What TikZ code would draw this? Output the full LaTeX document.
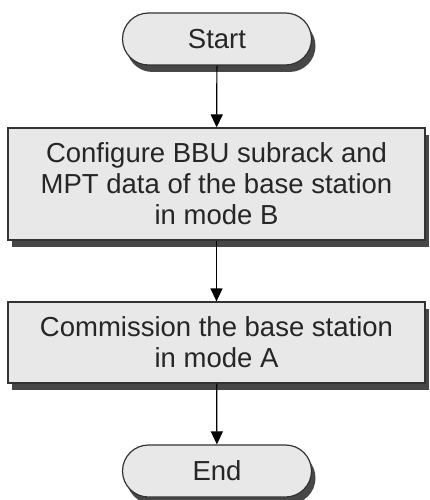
\documentclass[tikz,border=0pt]{standalone}
\usepackage{fontspec}
\setmainfont{Liberation Sans}
\usetikzlibrary{arrows.meta,shadows}

\begin{document}
\begin{tikzpicture}[x=1pt, y=-1pt, >={Triangle[width=12pt,length=13pt]},
    every node/.style={font=\fontsize{27.5}{31}\selectfont, align=center, text=black!85},
    stepbox/.style={draw=black!80, line width=1.2pt, fill=black!9, minimum width=417pt, inner sep=0pt,
        drop shadow={shadow xshift=4pt, shadow yshift=-7pt, fill=black!72, opacity=1}},
    terminal/.style={stepbox, rounded corners=26pt, minimum width=189pt, minimum height=52pt}]
    \useasboundingbox (0,0) rectangle (430,500);

    % flow steps, top to bottom
    \node[terminal] (start) at (217,39) {Start};
    \node[stepbox, minimum height=112pt] (cfg) at (216.5,184) {Configure BBU subrack and\\MPT data of the base station\\in mode B};
    \node[stepbox, minimum height=81pt] (comm) at (216.5,342.5) {Commission the base station\\in mode A};
    \node[terminal] (end) at (217,471) {End};

    % connectors
    \draw[->, line width=1.2pt] (start) -- (cfg);
    \draw[->, line width=1.2pt] (cfg) -- (comm);
    \draw[->, line width=1.2pt] (comm) -- (end);
\end{tikzpicture}
\end{document}
